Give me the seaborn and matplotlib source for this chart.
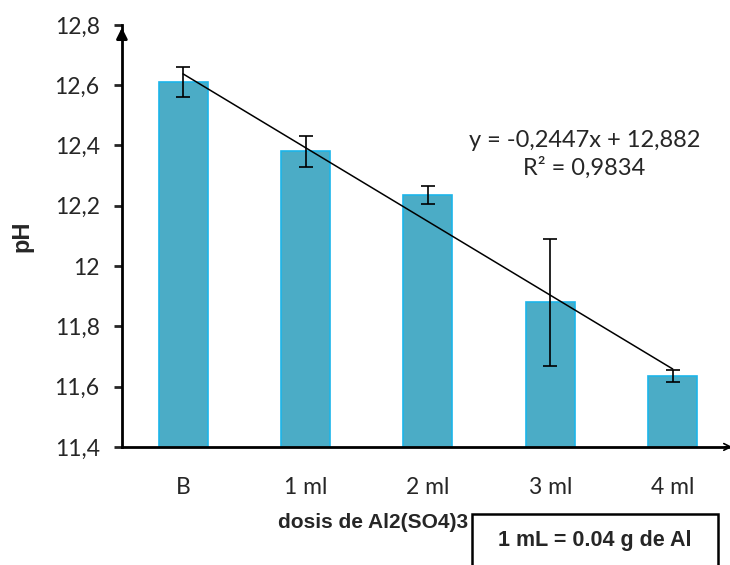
import matplotlib
matplotlib.use('Agg')
import matplotlib.pyplot as plt
from matplotlib.patches import Rectangle
import numpy as np
import pandas as pd
import seaborn as sns

categories = ['B', '1 ml', '2 ml', '3 ml', '4 ml']
ph_values = [12.61, 12.38, 12.235, 11.88, 11.635]
ph_errors = [0.05, 0.05, 0.03, 0.21, 0.02]
y_ticks = [11.4, 11.6, 11.8, 12.0, 12.2, 12.4, 12.6, 12.8]
y_tick_labels = ['11,4', '11,6', '11,8', '12', '12,2', '12,4', '12,6', '12,8']

# Excel linear trendline as printed on the chart (x = 1..n)
trend_slope = -0.2447
trend_intercept = 12.882
trend_r2 = 0.9834

BAR_FILL = '#4BACC6'
BAR_EDGE = '#1CB5EA'

sns.set_style('white')
plt.rcParams['font.family'] = ['Lato', 'DejaVu Sans']

df = pd.DataFrame({'dose': categories, 'ph': ph_values})

fig = plt.figure(figsize=(7.3, 5.65), dpi=100)
ax = fig.add_axes([0.167, 0.209, 0.83, 0.747])

sns.barplot(data=df, x='dose', y='ph', color=BAR_FILL, width=0.4,
            edgecolor=BAR_EDGE, linewidth=1.2, saturation=1, ax=ax)
xpos = np.arange(len(categories))
ax.errorbar(xpos, ph_values, yerr=ph_errors, fmt='none', ecolor='black',
            elinewidth=1.2, capsize=5, capthick=1.2, zorder=4)

trend = trend_slope * (xpos + 1) + trend_intercept
ax.plot(xpos, trend, color='black', linewidth=1.1, zorder=5)
eq = f'y = {trend_slope:.4f}x + {trend_intercept:.3f}'.replace('.', ',')
ax.text(3.28, 12.418, eq, ha='center', va='center', fontsize=17)
ax.text(3.28, 12.326, f'R² = {trend_r2:.4f}'.replace('.', ','), ha='center', va='center', fontsize=17)

ax.set_ylim(11.4, 12.8)
ax.set_xlim(-0.5, 4.45)
ax.set_yticks(y_ticks)
ax.set_yticklabels(y_tick_labels, fontsize=16.5)
ax.tick_params(axis='y', direction='out', length=6, width=2, left=True, pad=10)
ax.tick_params(axis='x', length=0, labelsize=16.5, pad=22)

for side in ['top', 'right']:
    ax.spines[side].set_visible(False)
for side in ['left', 'bottom']:
    ax.spines[side].set_linewidth(2)
    ax.spines[side].set_color('black')

ax.annotate('', xy=(0, 1.0), xytext=(0, 0.97), xycoords='axes fraction',
            arrowprops=dict(arrowstyle='-|>', color='black', lw=2, mutation_scale=16))
ax.annotate('', xy=(1.012, 0), xytext=(0.99, 0), xycoords='axes fraction',
            arrowprops=dict(arrowstyle='->', color='black', lw=1.2, mutation_scale=12),
            annotation_clip=False)

ax.set_ylabel('pH', fontsize=17, fontweight='bold', family='Liberation Sans')
ax.yaxis.set_label_coords(-0.146, 0.5)
ax.set_xlabel('dosis de Al2(SO4)3', fontsize=15, fontweight='bold', family='Liberation Sans')
ax.xaxis.set_label_coords(0.415, -0.18)
ax.xaxis.label.set_va('center')

fig.patches.append(Rectangle((0.646, -0.01), 0.337, 0.101, transform=fig.transFigure,
                             facecolor='white', edgecolor='black', linewidth=1.8, zorder=10))
fig.text(0.815, 0.044, '1 mL = 0.04 g de Al', ha='center', va='center', fontsize=15.5,
         fontweight='bold', family='Liberation Sans', zorder=11)

fig.savefig('out.png', dpi=100)
